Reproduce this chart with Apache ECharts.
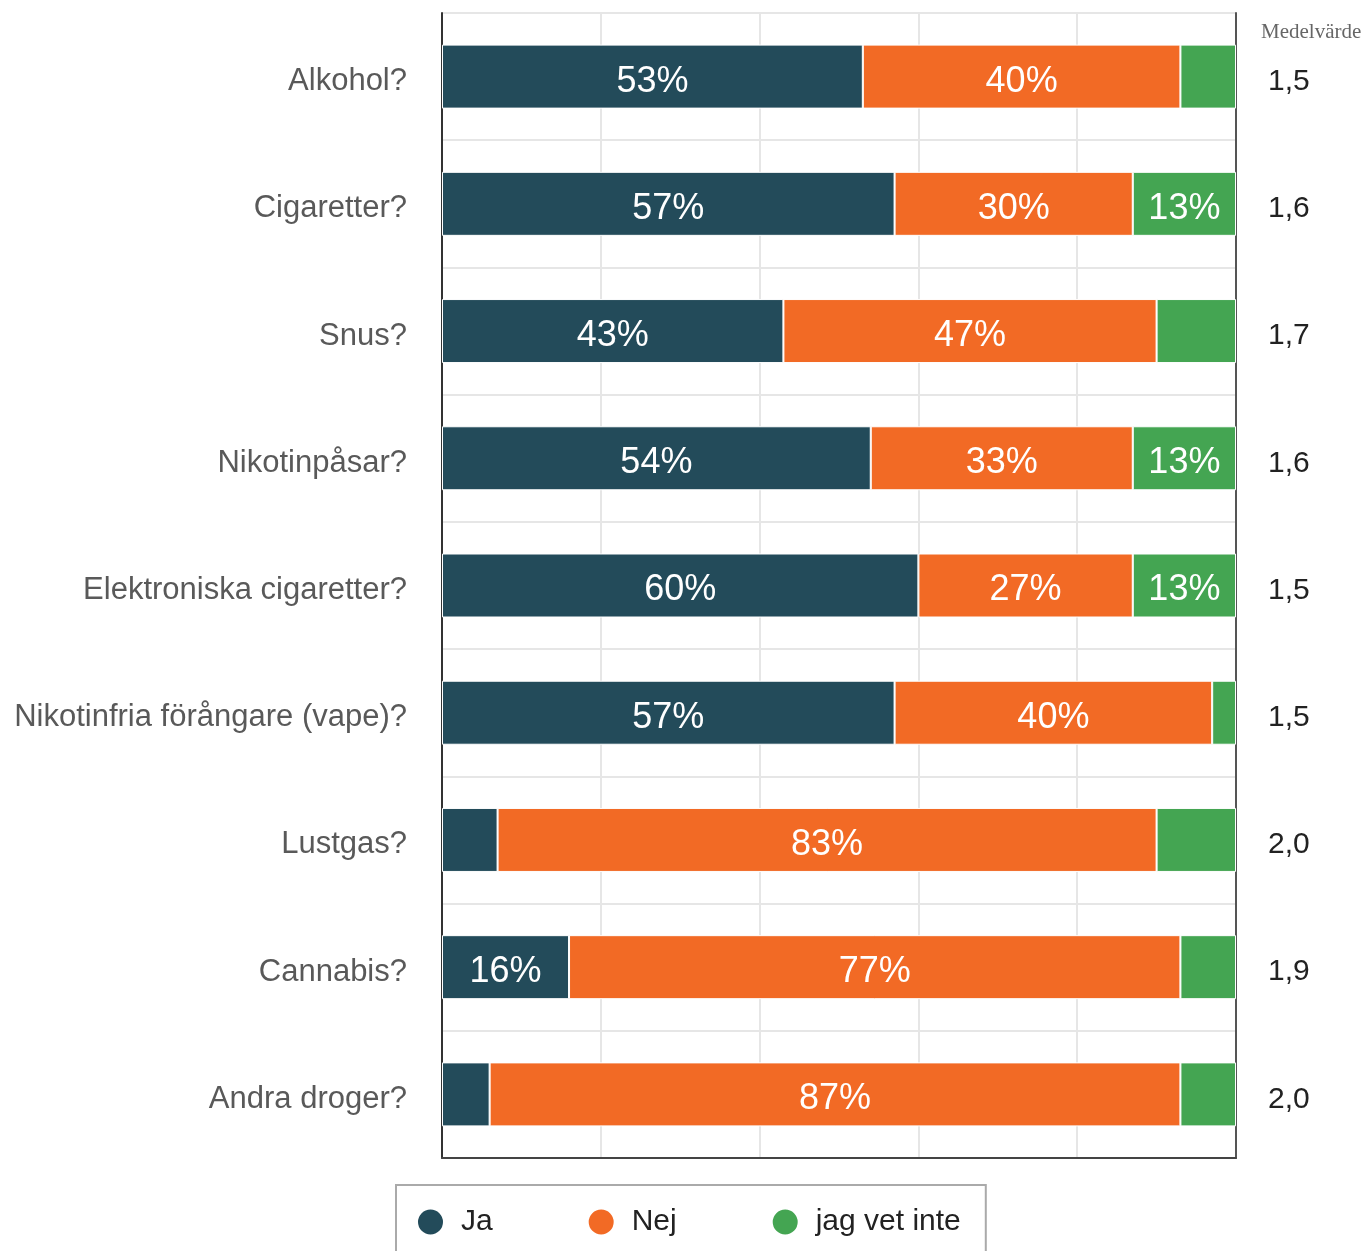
<!DOCTYPE html>
<html>
<head>
<meta charset="utf-8">
<script src="https://cdn.jsdelivr.net/npm/echarts@6/dist/echarts.min.js"></script>
<style>html,body{margin:0;padding:0;background:#fff}#c{width:1364px;height:1251px}</style>
</head>
<body>
<div id="c"></div>
<script>
const categories = ['Alkohol?', 'Cigaretter?', 'Snus?', 'Nikotinpåsar?', 'Elektroniska cigaretter?', 'Nikotinfria förångare (vape)?', 'Lustgas?', 'Cannabis?', 'Andra droger?'];
const ja = [53, 57, 43, 54, 60, 57, 7, 16, 6];
const nej = [40, 30, 47, 33, 27, 40, 83, 77, 87];
const vetInte = [7, 13, 10, 13, 13, 3, 10, 7, 7];
const medel = ['1,5', '1,6', '1,7', '1,6', '1,5', '1,5', '2,0', '1,9', '2,0'];
const seriesNames = ['Ja', 'Nej', 'jag vet inte'];
const colors = ['#234b5a', '#f26a25', '#44a552'];

const font = 'Liberation Sans, Arial, sans-serif';
const chart = echarts.init(document.getElementById('c'), null, {renderer: 'canvas'});
const mk = (name, data, color) => ({
  name, type: 'bar', stack: 'total', data, barWidth: 64,
  itemStyle: {color, borderColor: '#fff', borderWidth: 1},
  label: {
    show: true, position: 'inside', color: '#fff', fontSize: 36, fontFamily: font, offset: [0, 5],
    formatter: p => p.value >= 13 ? p.value + '%' : ''
  },
  emphasis: {disabled: true}
});
chart.setOption({
  animation: false,
  title: {
    text: 'Medelvärde', left: 1256, top: 17,
    textStyle: {fontFamily: 'Liberation Serif, serif', fontSize: 21, fontWeight: 'normal', color: '#666'}
  },
  grid: {left: 442, right: 128, top: 13, bottom: 93, containLabel: false},
  legend: {
    data: seriesNames, left: 396, top: 1185, orient: 'horizontal',
    icon: 'circle', itemWidth: 27, itemHeight: 27, itemGap: 94,
    borderColor: '#aaa', borderWidth: 2, padding: [22, 25, 40, 20],
    textStyle: {fontSize: 30, fontFamily: font, color: '#222', padding: [0, 0, 0, 12]}
  },
  xAxis: {
    type: 'value', min: 0, max: 100, interval: 20,
    axisLabel: {show: false}, axisTick: {show: false},
    axisLine: {show: true, lineStyle: {color: '#444', width: 2}},
    splitLine: {show: true, lineStyle: {color: '#e6e6e6', width: 2}}
  },
  yAxis: [{
    type: 'category', data: categories, inverse: true,
    axisTick: {show: false},
    axisLine: {show: true, lineStyle: {color: '#333', width: 2}},
    axisLabel: {fontSize: 31, fontFamily: font, color: '#595959', margin: 35, verticalAlign: 'top', lineHeight: 10},
    splitLine: {show: true, lineStyle: {color: '#e6e6e6', width: 2}}
  }, {
    type: 'category', data: medel, inverse: true, position: 'right',
    axisTick: {show: false},
    axisLine: {show: true, lineStyle: {color: '#555', width: 2}},
    axisLabel: {fontSize: 30, fontFamily: font, color: '#222', margin: 32, verticalAlign: 'top', lineHeight: 10}
  }],
  series: [mk(seriesNames[0], ja, colors[0]), mk(seriesNames[1], nej, colors[1]), mk(seriesNames[2], vetInte, colors[2])]
});
</script>
</body>
</html>
